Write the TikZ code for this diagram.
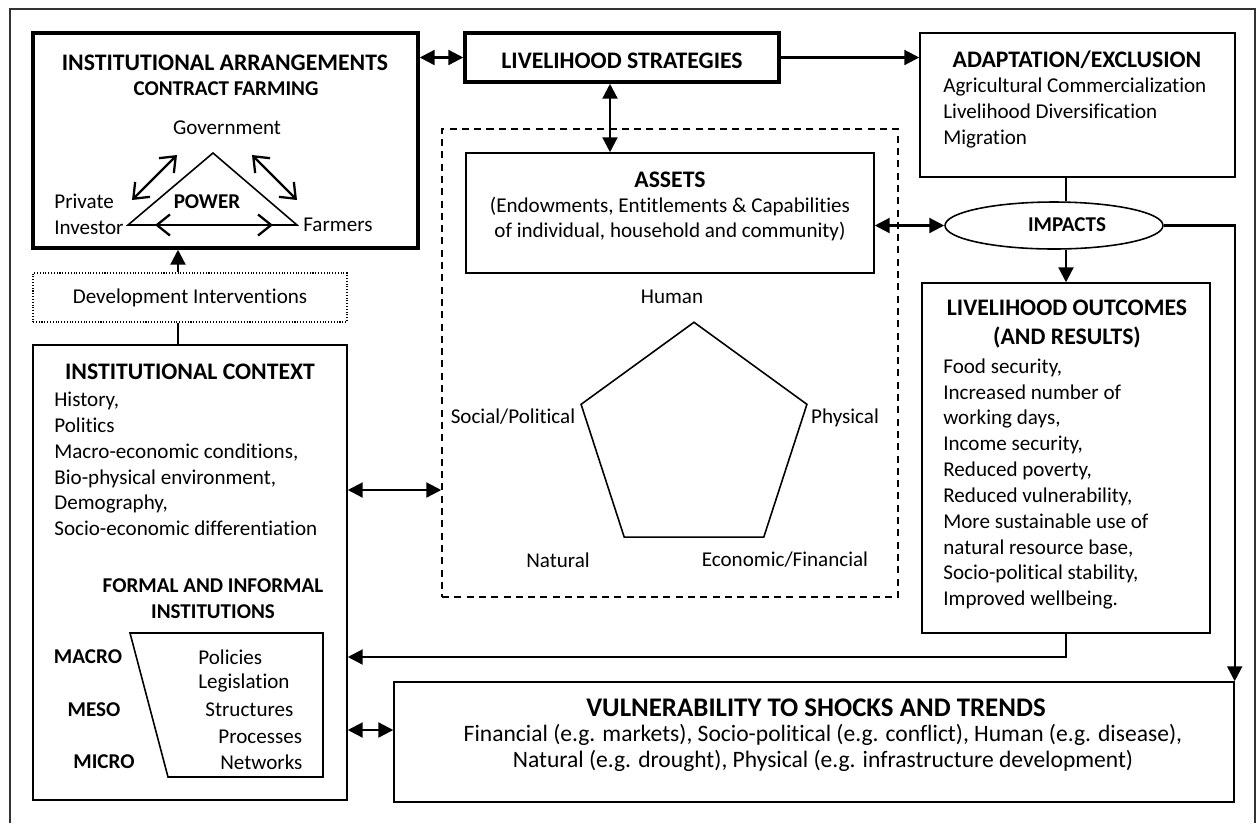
\documentclass[tikz,border=0pt]{standalone}
\usepackage{fontspec}
\setmainfont{Carlito}[Ligatures=NoCommon]
\usetikzlibrary{arrows.meta,shapes.geometric}

\tikzset{
  box/.style={draw,line width=0.9pt,inner sep=0pt},
  thickbox/.style={draw,line width=2pt,inner sep=0pt},
  ttl/.style={inner sep=0pt,font=\fontsize{13.5}{16}\selectfont\bfseries},
  sub/.style={inner sep=0pt,align=center,font=\fontsize{12}{14.7}\selectfont\bfseries},
  txt/.style={inner sep=0pt,align=left,font=\fontsize{12}{14.7}\selectfont},
  arr/.style={line width=1.3pt,-{Triangle[length=8.5pt,width=8.5pt]}},
  dbl/.style={line width=1.3pt,{Triangle[length=8.5pt,width=8.5pt]}-{Triangle[length=8.5pt,width=8.5pt]}},
  barb/.style={line width=1.3pt,{Straight Barb[length=7.5pt,width=12pt]}-{Straight Barb[length=7.5pt,width=12pt]}}
}

\begin{document}
\begin{tikzpicture}[x=0.02cm,y=-0.02cm]

    \useasboundingbox (0,0) rectangle (1258,823);
    \draw[line width=0.8pt,black!80] (10,823) -- (10,9) -- (1255,9) -- (1255,823);

    % boxes
    \node[thickbox,minimum width=7.70cm,minimum height=4.30cm] (instarr) at (225.5,140.5) {};
    \node[thickbox,minimum width=6.28cm,minimum height=0.98cm] (strat) at (622,57.5) {};
    \node[box,minimum width=6.30cm,minimum height=2.88cm] (adapt) at (1077.5,105) {};
    \node[box,dash pattern=on 4pt off 3pt,minimum width=9.12cm,minimum height=9.36cm] (zone) at (670,363) {};
    \node[box,minimum width=8.16cm,minimum height=2.40cm] (assets) at (670,213) {};
    \node[box,ellipse,minimum width=4.36cm,minimum height=0.94cm] (impacts) at (1054,225.5) {};
    \node[box,minimum width=5.76cm,minimum height=7.00cm] (outcomes) at (1066,458) {};
    \node[box,line width=0.8pt,dash pattern=on 0.6pt off 1pt,minimum width=6.28cm,minimum height=0.98cm] (devint) at (190,297.5) {};
    \node[box,minimum width=6.28cm,minimum height=9.10cm] (context) at (190,572.5) {};
    \node[box,minimum width=16.80cm,minimum height=2.40cm] (vuln) at (814,742) {};

    % contract farming triangle
    \draw[line width=0.9pt] (213,153) -- (128,225) -- (297,225) -- cycle;
    \draw[barb] (132,200) -- (177,155);
    \draw[barb] (252,155) -- (297,200);
    \draw[barb] (155,225) -- (273,225);
    \node[ttl] (t-instarr) at (225,63) {INSTITUTIONAL ARRANGEMENTS};
    \node[sub] (t-cf) at (226,89) {CONTRACT FARMING};
    \node[txt] (gov) at (227,128) {Government};
    \node[sub] (power) at (207,202) {POWER};
    \node[txt,anchor=west] (inv) at (54,214) {Private\\Investor};
    \node[txt,anchor=west] (farm) at (303,225) {Farmers};

    \node[ttl] (t-strat) at (622,61) {LIVELIHOOD STRATEGIES};

    \node[ttl] (t-adapt) at (1077,60) {ADAPTATION/EXCLUSION};
    \node[txt,anchor=west] (l-adapt) at (943,113) {Agricultural Commercialization\\Livelihood Diversification\\Migration};

    % assets
    \node[ttl] (t-assets) at (670,180) {ASSETS};
    \node[txt,align=center] (l-assets) at (670,219) {(Endowments, Entitlements \& Capabilities\\of individual, household and community)};
    \node[regular polygon,regular polygon sides=5,draw,line width=0.9pt,inner sep=0pt,minimum size=4.75cm] (capital) at (694,441) {};
    \node[txt] (human) at (672,297) {Human};
    \node[txt] (social) at (513,417) {Social/Political};
    \node[txt] (phys) at (845,418) {Physical};
    \node[txt] (nat) at (558,560) {Natural};
    \node[txt] (econ) at (785,560) {Economic/Financial};

    \node[sub] (t-impacts) at (1067,225) {IMPACTS};

    \node[ttl,align=center] (t-out) at (1067,324) {LIVELIHOOD OUTCOMES\\(AND RESULTS)};
    \node[txt,anchor=west] (l-out) at (943,484) {Food security,\\Increased number of\\working days,\\Income security,\\Reduced poverty,\\Reduced vulnerability,\\More sustainable use of\\natural resource base,\\Socio-political stability,\\Improved wellbeing.};

    % institutional context
    \node[txt] (t-devint) at (190,298) {Development Interventions};
    \node[ttl] (t-context) at (190,372) {INSTITUTIONAL CONTEXT};
    \node[txt,anchor=west] (l-context) at (54,464) {History,\\Politics\\Macro-economic conditions,\\Bio-physical environment,\\Demography,\\Socio-economic differentiation};
    \node[sub] (t-formal) at (213,599) {FORMAL AND INFORMAL\\INSTITUTIONS};
    \draw[line width=0.9pt] (130,633) -- (323,633) -- (323,777) -- (168,777) -- cycle;
    \node[sub] (macro) at (88,657) {MACRO};
    \node[sub] (meso) at (94,710) {MESO};
    \node[sub] (micro) at (104,762) {MICRO};
    \node[txt,anchor=west] (pol) at (198,657) {Policies};
    \node[txt,anchor=west] (leg) at (198,683) {Legislation};
    \node[txt,anchor=west] (struc) at (205,710) {Structures};
    \node[txt,anchor=west] (proc) at (218,737) {Processes};
    \node[txt,anchor=west] (netw) at (220,762) {Networks};

    \node[ttl,font=\fontsize{15.3}{18}\selectfont\bfseries] (t-vuln) at (816,708) {VULNERABILITY TO SHOCKS AND TRENDS};
    \node[txt,align=center,font=\fontsize{13.4}{14.7}\selectfont] (l-vuln) at (823,748) {Financial (e.g. markets), Socio-political (e.g. conflict), Human (e.g. disease),\\Natural (e.g. drought), Physical (e.g. infrastructure development)};

    % connectors
    \draw[dbl] (instarr.east |- strat.west) -- (strat.west);
    \draw[arr] (strat.east) -- (strat.east -| adapt.west);
    \draw[dbl] (strat.south -| 610,0) -- (assets.north -| 610,0);
    \draw[dbl] (assets.east |- impacts.west) -- (impacts.west);
    \draw[line width=0.9pt] (adapt.south -| 1066,0) -- (impacts.north -| 1066,0);
    \draw[arr] (impacts.south -| 1066,0) -- (outcomes.north -| 1066,0);
    \draw[arr] (impacts.east) -| (vuln.north east);
    \draw[arr] (outcomes.south) |- (context.east |- 0,657);
    \draw[dbl] (context.east |- 0,490) -- (zone.west |- 0,490);
    \draw[dbl] (context.east |- 0,730) -- (vuln.west |- 0,730);
    \draw[arr] (devint.north -| 178,0) -- (instarr.south -| 178,0);
    \draw[line width=1.1pt] (devint.south -| 178,0) -- (context.north -| 178,0);

\end{tikzpicture}
\end{document}
